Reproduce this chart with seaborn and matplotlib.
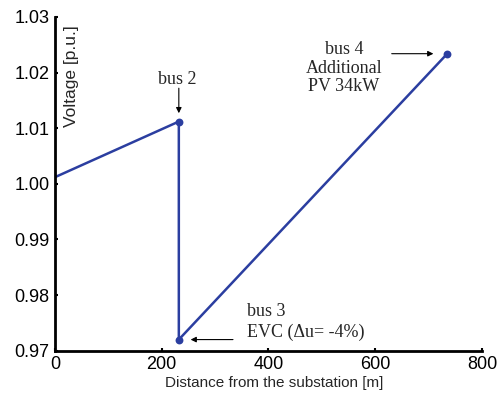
import pandas as pd
import seaborn as sns
import matplotlib.pyplot as plt

# voltage profile along the feeder
distance = [0, 232, 232, 735]
voltage = [1.0012, 1.0112, 0.9720, 1.0234]
bus_names = ["start", "bus 2", "bus 3", "bus 4"]

x_ticks = [0, 200, 400, 600, 800]
y_ticks = [0.97, 0.98, 0.99, 1.00, 1.01, 1.02, 1.03]

df = pd.DataFrame({"distance": distance, "voltage": voltage, "bus": bus_names})
line_color = "#2b3ea0"

sns.set_style("ticks")
plt.rcParams["font.family"] = ["Liberation Sans", "DejaVu Sans"]

fig = plt.figure(figsize=(5.01, 3.94), dpi=100)
ax = fig.add_axes([0.1098, 0.1099, 0.8522, 0.847])

# estimator=None so the vertical drop at bus 2/3 is kept as is
sns.lineplot(data=df, x="distance", y="voltage", sort=False, estimator=None,
             color=line_color, linewidth=1.8, ax=ax)
sns.scatterplot(data=df[df["bus"] != "start"], x="distance", y="voltage",
                color=line_color, s=32, edgecolor=line_color, linewidth=0,
                zorder=3, ax=ax)

ax.set_xlim(0, 800)
ax.set_ylim(0.97, 1.03)
ax.set_xticks(x_ticks)
ax.set_yticks(y_ticks)
ax.set_yticklabels([f"{v:.2f}" for v in y_ticks])
ax.tick_params(direction="in", length=2.5, width=1.5, labelsize=13, pad=4,
               colors="black")
for side in ["left", "bottom"]:
    ax.spines[side].set_linewidth(2)
    ax.spines[side].set_color("black")
sns.despine(ax=ax)

ax.set_xlabel("Distance from the substation [m]", fontsize=11)
ax.set_ylabel("Voltage [p.u.]", fontsize=12.5)
ax.xaxis.set_label_coords(0.513, -0.075)
ax.yaxis.set_label_coords(0.056, 0.823)

serif = ["Liberation Serif", "DejaVu Serif"]
arrow = dict(arrowstyle="-|>", color="black", lw=0.8, mutation_scale=8, shrinkA=0)

# bus 2
p2 = (distance[1], voltage[1])
ax.annotate("", xy=p2, xytext=(0, 24), textcoords="offset points",
            arrowprops=dict(arrow, shrinkB=6))
ax.annotate("bus 2", xy=p2, xytext=(-1, 30), textcoords="offset points",
            ha="center", va="center", fontsize=13, family=serif)

# bus 3
p3 = (distance[2], voltage[2])
ax.annotate("", xy=p3, xytext=(39, 0), textcoords="offset points",
            arrowprops=dict(arrow, shrinkB=8.5))
ax.annotate("bus 3\nEVC (\u0394u= -4%)", xy=p3, xytext=(49, 12.5),
            textcoords="offset points", ha="left", va="center",
            fontsize=13, family=serif, linespacing=1.25)

# bus 4
p4 = (distance[3], voltage[3])
ax.annotate("", xy=p4, xytext=(-40, 0), textcoords="offset points",
            arrowprops=dict(arrow, shrinkB=10))
ax.annotate("bus 4\nAdditional\nPV 34kW", xy=p4, xytext=(-74.5, -10.5),
            textcoords="offset points", ha="center", va="center",
            multialignment="center", fontsize=13, family=serif,
            linespacing=1.1)

fig.savefig("out.png", dpi=100)
